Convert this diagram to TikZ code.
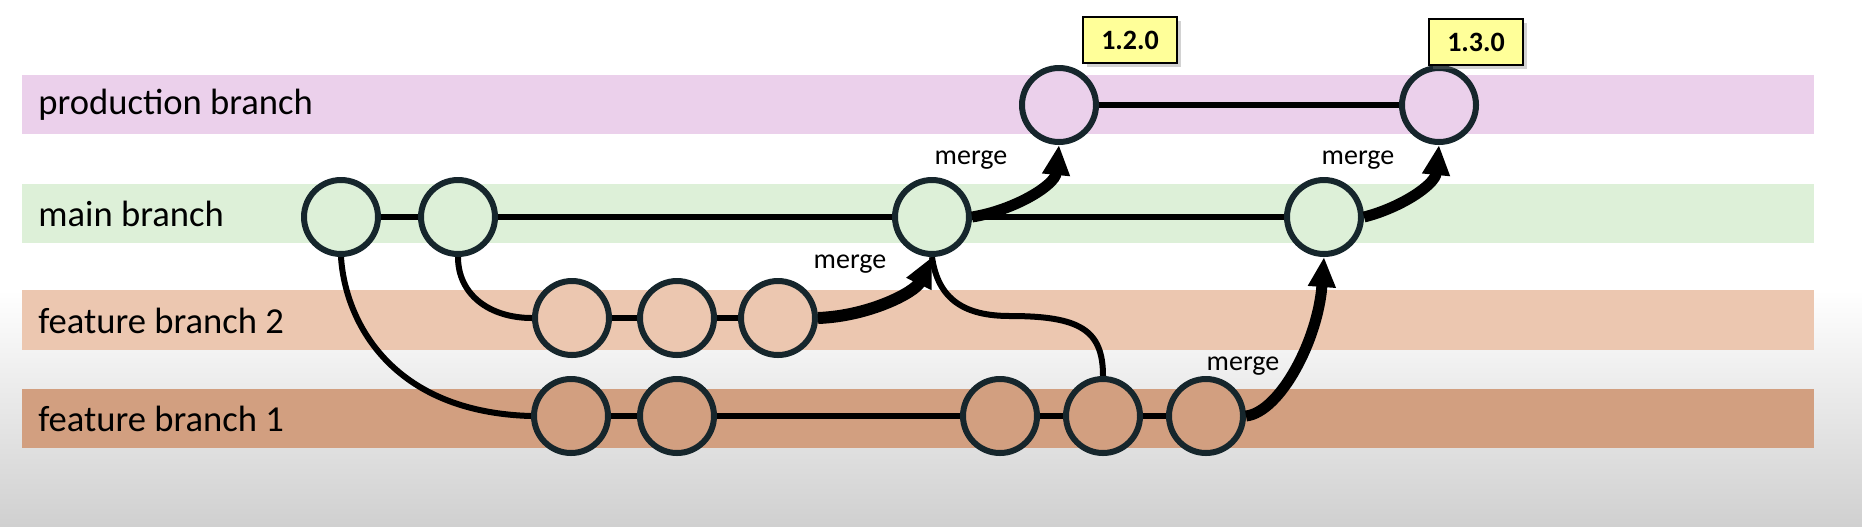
\documentclass[tikz,border=0pt]{standalone}
\usepackage{fontspec}
\setmainfont{Carlito}
\usetikzlibrary{arrows.meta,shadows}
\definecolor{prodband}{HTML}{EBD0EB}
\definecolor{mainband}{HTML}{DDF0D8}
\definecolor{ftwoband}{HTML}{ECC7B0}
\definecolor{foneband}{HTML}{D29F80}
\definecolor{ringcol}{HTML}{16262C}
\definecolor{tagfill}{HTML}{FFFF99}
\definecolor{bggray}{HTML}{D0D0D0}
\pgfdeclarelayer{bg}
\pgfdeclarelayer{lines}
\pgfsetlayers{bg,lines,main}
\begin{document}
\begin{tikzpicture}[x=0.5pt,y=-0.5pt,
  commit/.style={circle,draw=ringcol,line width=3pt,minimum size=37pt,inner sep=0pt},
  branchline/.style={line width=3pt,black},
  mergearrow/.style={line width=5.5pt,black,-{Triangle[length=15pt,width=13pt]}},
  bandlabel/.style={anchor=west,font=\fontsize{18.3}{22}\selectfont,inner sep=0pt},
  mergelabel/.style={font=\fontsize{14}{17}\selectfont,inner sep=0pt},
  tag/.style={draw=black,line width=0.8pt,fill=tagfill,minimum width=47pt,minimum height=23pt,inner sep=0pt,
    font=\bfseries\fontsize{14}{17}\selectfont,
    drop shadow={shadow xshift=2pt,shadow yshift=-2pt,opacity=0.35,fill=gray}}]
\useasboundingbox (0,0) rectangle (1862,526);
\begin{pgfonlayer}{bg}
  \fill[white] (0,0) rectangle (1862,291);
  \shade[top color=white,bottom color=bggray] (0,290) rectangle (1862,526);
  \fill[prodband] (22,75) rectangle (1814,134);
  \fill[mainband] (22,184) rectangle (1814,243);
  \fill[ftwoband] (22,290) rectangle (1814,350);
  \fill[foneband] (22,389) rectangle (1814,448);
\end{pgfonlayer}
% labels
\node[bandlabel] (lp) at (38,105) {production branch};
\node[bandlabel] (lm) at (38,214) {main branch};
\node[bandlabel] (lf2) at (38,321) {feature branch 2};
\node[bandlabel] (lf1) at (38,419) {feature branch 1};
% commits
\node[commit,fill=prodband] (p1) at (1059,105) {};
\node[commit,fill=prodband] (p2) at (1439,105) {};
\node[commit,fill=mainband] (m1) at (341,217) {};
\node[commit,fill=mainband] (m2) at (458,217) {};
\node[commit,fill=mainband] (m3) at (932,217) {};
\node[commit,fill=mainband] (m4) at (1324,217) {};
\node[commit,fill=ftwoband] (f2a) at (572,318) {};
\node[commit,fill=ftwoband] (f2b) at (677,318) {};
\node[commit,fill=ftwoband] (f2c) at (778,318) {};
\node[commit,fill=foneband] (f1a) at (571,416) {};
\node[commit,fill=foneband] (f1b) at (677,416) {};
\node[commit,fill=foneband] (f1c) at (1000,416) {};
\node[commit,fill=foneband] (f1d) at (1103,416) {};
\node[commit,fill=foneband] (f1e) at (1206,416) {};
% thin lines
\begin{pgfonlayer}{lines}
  \draw[branchline] (m1) -- (m2) -- (m3) -- (m4);
  \draw[branchline] (p1) -- (p2);
  \draw[branchline] (f2a) -- (f2b) -- (f2c);
  \draw[branchline] (f1a) -- (f1b) -- (f1c) -- (f1d) -- (f1e);
  \draw[branchline] (m1.south) .. controls (345,320) and (390,412) .. (f1a.west);
  \draw[branchline] (m2.south) .. controls (458,295) and (490,318) .. (f2a.west);
  \coordinate (sbend) at (1010,316);
  \draw[branchline] (m3.south) .. controls (938,300) and (965,316) .. (sbend)
     .. controls (1080,316) and (1103,330) .. (f1d.north);
\end{pgfonlayer}
% merge arrows
\draw[mergearrow,line width=6pt] (f2c.east) .. controls (870,316) and (915,292) .. (m3.south);
\draw[mergearrow] (m3.east) .. controls (1015,210) and (1055,185) .. (p1.south);
\draw[mergearrow] (m4.east) .. controls (1400,208) and (1435,185) .. (p2.south);
\draw[mergearrow] (f1e.east) .. controls (1280,412) and (1318,340) .. (m4.south);
% tags
\node[tag] (t1) at (1130,40) {1.2.0};
\node[tag] (t2) at (1476,42) {1.3.0};
% merge labels
\node[mergelabel] (ml1) at (850,264) {merge};
\node[mergelabel] (ml2) at (971,160) {merge};
\node[mergelabel] (ml3) at (1358,160) {merge};
\node[mergelabel] (ml4) at (1243,366) {merge};
\end{tikzpicture}
\end{document}
